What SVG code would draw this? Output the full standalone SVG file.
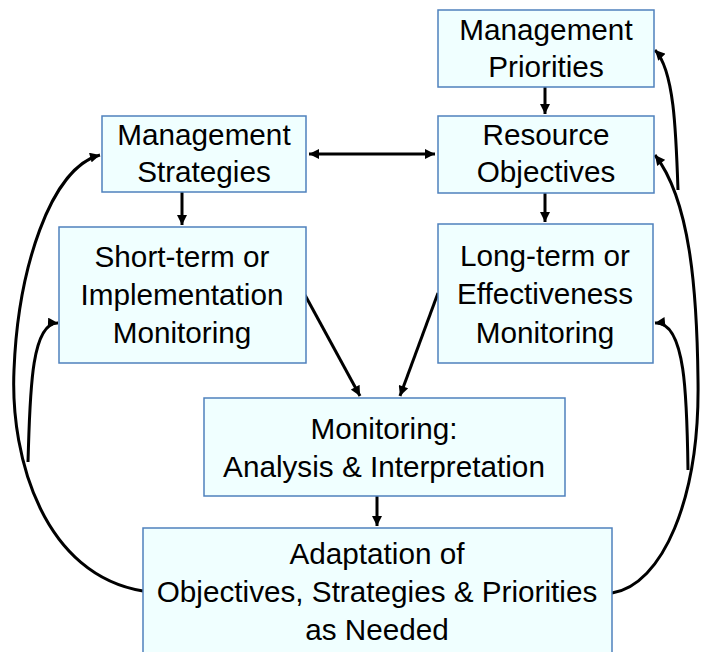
<svg xmlns="http://www.w3.org/2000/svg" width="708" height="652" viewBox="0 0 708 652">
<style>
.box{fill:#F0FFFF;stroke:#4F81BD;stroke-width:1.5}
.t{font-family:"Liberation Sans",Arial,sans-serif;font-size:29.7px;fill:#000;text-anchor:middle}
.c{fill:none;stroke:#000;stroke-width:3}
</style>
<defs>
<marker id="ah" markerUnits="userSpaceOnUse" viewBox="0 0 10 10" markerWidth="11" markerHeight="10" refX="10" refY="5" orient="auto-start-reverse">
<path d="M0,0 L10,5 L0,10 z" fill="#000"/>
</marker>
</defs>
<rect width="708" height="652" fill="#fff"/>
<g id="connectors">
<line class="c" x1="309" y1="154" x2="435" y2="154" marker-start="url(#ah)" marker-end="url(#ah)"/>
<line class="c" x1="545" y1="87" x2="545" y2="114" marker-end="url(#ah)"/>
<line class="c" x1="182" y1="192" x2="182" y2="225" marker-end="url(#ah)"/>
<line class="c" x1="545" y1="193" x2="545" y2="222" marker-end="url(#ah)"/>
<line class="c" x1="305" y1="295" x2="360" y2="396" marker-end="url(#ah)"/>
<line class="c" x1="438" y1="293" x2="400" y2="396" marker-end="url(#ah)"/>
<line class="c" x1="377" y1="496" x2="377" y2="526" marker-end="url(#ah)"/>
<path class="c" d="M143,591 C 45,575 10,460 14,370 C 18,270 50,168 100,155" marker-end="url(#ah)"/>
<path class="c" d="M28,462 C 30,400 30,322 58,323" marker-end="url(#ah)"/>
<path class="c" d="M612,593 C 662,585 700,500 698,380 C 697,290 690,200 655,155" marker-end="url(#ah)"/>
<path class="c" d="M678,190 C 676,130 674,70 655,50" marker-end="url(#ah)"/>
<path class="c" d="M688,470 C 687,400 686,320 655,323" marker-end="url(#ah)"/>
</g>
<g id="management-priorities">
<rect class="box" x="438" y="10" width="216" height="77"/>
<text class="t" x="546" y="40">Management</text>
<text class="t" x="546" y="77">Priorities</text>
</g>
<g id="resource-objectives">
<rect class="box" x="438" y="116" width="216" height="77"/>
<text class="t" x="546" y="145">Resource</text>
<text class="t" x="546" y="182">Objectives</text>
</g>
<g id="management-strategies">
<rect class="box" x="102" y="116" width="204" height="76"/>
<text class="t" x="204" y="145">Management</text>
<text class="t" x="204" y="182">Strategies</text>
</g>
<g id="short-term">
<rect class="box" x="59" y="227" width="247" height="136"/>
<text class="t" x="182" y="267">Short-term or</text>
<text class="t" x="182" y="305">Implementation</text>
<text class="t" x="182" y="343">Monitoring</text>
</g>
<g id="long-term">
<rect class="box" x="438" y="224" width="215" height="139"/>
<text class="t" x="545" y="266">Long-term or</text>
<text class="t" x="545" y="304">Effectiveness</text>
<text class="t" x="545" y="343">Monitoring</text>
</g>
<g id="monitoring-analysis">
<rect class="box" x="204" y="398" width="361" height="98"/>
<text class="t" x="384" y="439">Monitoring:</text>
<text class="t" x="384" y="477">Analysis &amp; Interpretation</text>
</g>
<g id="adaptation">
<rect class="box" x="143" y="528" width="469" height="135"/>
<text class="t" x="377" y="564">Adaptation of</text>
<text class="t" x="377" y="602">Objectives, Strategies &amp; Priorities</text>
<text class="t" x="377" y="640">as Needed</text>
</g>
</svg>
